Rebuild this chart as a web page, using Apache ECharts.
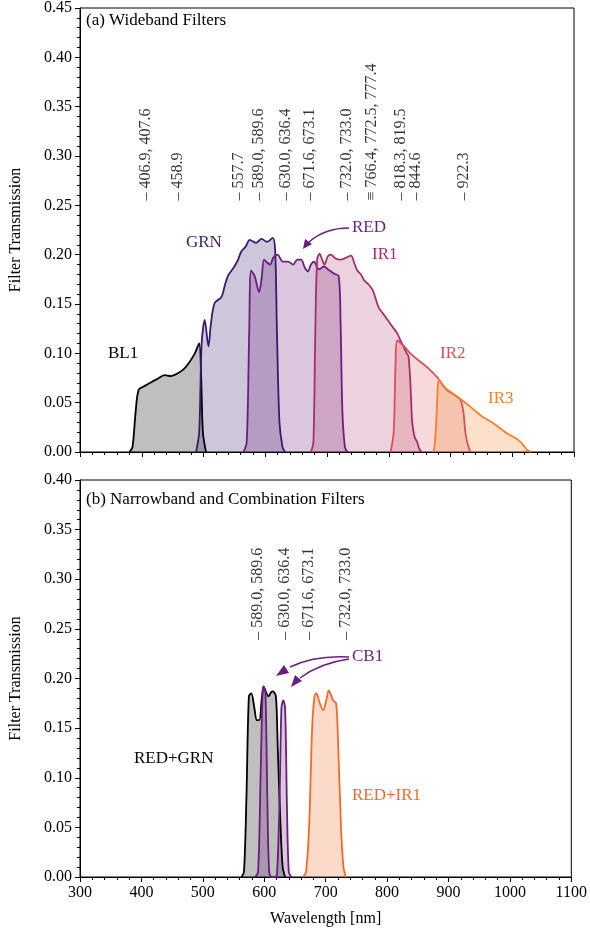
<!DOCTYPE html>
<html>
<head>
<meta charset="utf-8">
<script src="https://cdn.jsdelivr.net/npm/echarts@6/dist/echarts.min.js"></script>
<style>html,body{margin:0;padding:0;background:#fff}#main{width:590px;height:938px}</style>
</head>
<body>
<div id="main"></div>
<script>
// wideband filters [nm, transmission]
var bl1 = [[380,0],[385,0.005],[390,0.04],[395,0.063],[405,0.067],[416,0.071],[425,0.074],[437,0.078],[447,0.077],[459,0.080],[468,0.084],[476,0.090],[486,0.100],[493,0.110],[496,0.08],[499,0.02],[504,0]];
var grn = [[488,0],[493,0.02],[497,0.11],[502,0.134],[508,0.107],[512,0.13],[518,0.151],[529,0.157],[535,0.17],[540,0.179],[550,0.188],[556,0.195],[561,0.203],[568,0.208],[575,0.215],[585,0.212],[594,0.216],[603,0.213],[612,0.217],[616,0.205],[619,0.12],[623,0.03],[628,0.005],[632,0]];
var red = [[565,0],[570,0.01],[574,0.12],[577,0.184],[583,0.178],[590,0.162],[594,0.175],[598,0.195],[603,0.192],[608,0.19],[613,0.197],[620,0.2],[628,0.193],[637,0.193],[645,0.19],[652,0.195],[658,0.195],[664,0.187],[669,0.183],[674,0.19],[679,0.193],[687,0.185],[695,0.188],[702,0.185],[711,0.181],[719,0.178],[722,0.13],[725,0.04],[729,0.005],[733,0]];
var ir1 = [[674,0],[678,0.01],[681,0.12],[684,0.195],[688,0.201],[692,0.195],[696,0.19],[701,0.198],[706,0.2],[714,0.196],[722,0.195],[731,0.197],[739,0.199],[744,0.192],[749,0.184],[755,0.18],[760,0.174],[767,0.17],[774,0.164],[779,0.155],[784,0.146],[791,0.14],[798,0.134],[806,0.127],[814,0.12],[819,0.113],[824,0.107],[829,0.1],[832,0.097],[835,0.07],[838,0.03],[842,0.015],[846,0.01],[849,0.004],[853,0]];
var ir2 = [[803,0],[808,0.02],[811,0.09],[814,0.113],[825,0.107],[835,0.100],[848,0.093],[862,0.086],[878,0.076],[894,0.063],[906,0.058],[916,0.053],[921,0.04],[924,0.02],[927,0.01],[932,0]];
var ir3 = [[873,0],[876,0.02],[879,0.06],[881,0.073],[889,0.066],[900,0.061],[911,0.056],[922,0.051],[932,0.046],[951,0.036],[970,0.029],[991,0.019],[1000,0.016],[1010,0.012],[1018,0.007],[1024,0.002],[1030,0]];
// narrowband / combination filters
var redGrn = [[563,0],[567,0.005],[571,0.08],[575,0.182],[579,0.185],[584,0.17],[588,0.158],[592,0.158],[596,0.18],[599,0.192],[603,0.186],[607,0.182],[611,0.186],[614,0.187],[619,0.182],[622,0.13],[626,0.06],[630,0.01],[634,0]];
var cb1 = [[585,0],[590,0.005],[594,0.1],[597,0.18],[599,0.192],[602,0.185],[605,0.08],[608,0.005],[612,0],[618,0],[621,0.005],[625,0.08],[628,0.17],[631,0.178],[634,0.17],[637,0.07],[640,0.005],[644,0]];
var redIr1 = [[663,0],[668,0.005],[673,0.05],[678,0.15],[682,0.183],[685,0.185],[690,0.176],[696,0.168],[701,0.178],[705,0.188],[709,0.183],[712,0.178],[717,0.175],[720,0.14],[725,0.05],[729,0.01],[733,0]];
// emission line labels
var linesTopX = [407, 458.9, 557.7, 589.3, 633.2, 672.3, 732.5, 772.1, 818.9, 844.6, 922.3];
var linesTopTxt = ['406.9, 407.6','458.9','557.7','589.0, 589.6','630.0, 636.4','671.6, 673.1','732.0, 733.0','766.4, 772.5, 777.4','818.3, 819.5','844.6','922.3'];
var linesBotX = [589.3, 633.2, 672.3, 732.5];
var linesBotTxt = ['589.0, 589.6','630.0, 636.4','671.6, 673.1','732.0, 733.0'];

var FONT = 'Liberation Serif';
var FS = 16;
var chart = echarts.init(document.getElementById('main'));

function xAxis(idx, showLabel) {
  return {
    type: 'value', gridIndex: idx, min: 300, max: 1100, interval: 100,
    axisLine: { show: true, onZero: false, lineStyle: { color: '#000' } },
    axisTick: { show: true, length: 5, lineStyle: { color: '#000' } },
    minorTick: { show: true, splitNumber: 5, length: 3, lineStyle: { color: '#000' } },
    splitLine: { show: false },
    axisLabel: { show: showLabel, color: '#000', fontFamily: FONT, fontSize: FS, margin: 8, formatter: function (v) { return String(v); } },
    name: showLabel ? 'Wavelength [nm]' : '', nameLocation: 'middle', nameGap: 34,
    nameTextStyle: { color: '#000', fontFamily: FONT, fontSize: FS }
  };
}
function yAxis(idx, max) {
  return {
    type: 'value', gridIndex: idx, min: 0, max: max, interval: 0.05,
    axisLine: { show: true, lineStyle: { color: '#000' } },
    axisTick: { show: true, length: 5, lineStyle: { color: '#000' } },
    minorTick: { show: true, splitNumber: 5, length: 3, lineStyle: { color: '#000' } },
    splitLine: { show: false },
    axisLabel: { color: '#000', fontFamily: FONT, fontSize: FS, formatter: function (v) { return v.toFixed(2); } },
    name: 'Filter Transmission', nameLocation: 'middle', nameGap: 56,
    nameTextStyle: { color: '#000', fontFamily: FONT, fontSize: FS }
  };
}
function band(name, data, color, fillOpacity, idx) {
  return {
    name: name, type: 'line', data: data, xAxisIndex: idx, yAxisIndex: idx,
    symbol: 'none', smooth: 0.3,
    lineStyle: { color: color, width: 1.8 },
    areaStyle: { color: color, opacity: fillOpacity }
  };
}
function lineLabels(xs, txt, y, idx) {
  return {
    type: 'scatter', xAxisIndex: idx, yAxisIndex: idx, symbolSize: 0, silent: true,
    data: xs.map(function (x, i) { return { value: [x, y], name: (i === 7 && idx === 0 ? '\u2261 ' : '\u2013 ') + txt[i] }; }),
    label: { show: true, position: 'inside', rotate: 90, align: 'left', verticalAlign: 'middle',
      formatter: '{b}', color: '#000', fontFamily: FONT, fontSize: FS }
  };
}
function txt(x, y, s, color) {
  return { type: 'text', left: x, top: y, style: { text: s, fill: color, font: '17px "' + FONT + '"' } };
}
function arrow(x1, y1, cx, cy, x2, y2, color, hx) {
  return [
    { type: 'bezierCurve', shape: { x1: x1, y1: y1, cpx1: cx, cpy1: cy, x2: x2, y2: y2 }, style: { stroke: color, lineWidth: 1.5, fill: null } },
    { type: 'polygon', shape: { points: hx }, style: { fill: color } }
  ];
}

var option = {
  animation: false,
  grid: [
    { left: 78, right: 16, top: 8, height: 444, show: true, borderColor: '#000', borderWidth: 1 },
    { left: 78, right: 16, top: 480, height: 397, show: true, borderColor: '#000', borderWidth: 1 }
  ],
  xAxis: [xAxis(0, false), xAxis(1, true)],
  yAxis: [yAxis(0, 0.45), yAxis(1, 0.40)],
  series: [
    band('BL1', bl1, '#000000', 0.25, 0),
    band('GRN', grn, '#3b1a6e', 0.25, 0),
    band('RED', red, '#6b1f7c', 0.25, 0),
    band('IR1', ir1, '#a3306b', 0.22, 0),
    band('IR2', ir2, '#d9505a', 0.22, 0),
    band('IR3', ir3, '#f5822a', 0.25, 0),
    lineLabels(linesTopX, linesTopTxt, 0.255, 0),
    band('RED+GRN', redGrn, '#000000', 0.25, 1),
    band('CB1', cb1, '#6b1f7c', 0.25, 1),
    band('RED+IR1', redIr1, '#f26b2a', 0.25, 1),
    lineLabels(linesBotX, linesBotTxt, 0.239, 1)
  ],
  graphic: [
    txt(86, 12, '(a) Wideband Filters', '#000'),
    txt(108, 345, 'BL1', '#000'),
    txt(186, 234, 'GRN', '#3b1a6e'),
    txt(352, 219, 'RED', '#6b1f7c'),
    txt(372, 246, 'IR1', '#a3306b'),
    txt(440, 345, 'IR2', '#d9505a'),
    txt(488, 390, 'IR3', '#f5822a'),
    txt(86, 491, '(b) Narrowband and Combination Filters', '#000'),
    txt(352, 648, 'CB1', '#6b1f7c'),
    txt(134, 750, 'RED+GRN', '#000'),
    txt(352, 787, 'RED+IR1', '#f26b2a')
  ].concat(
    arrow(349, 228, 325, 228, 309, 242, '#6b1f7c', [[303, 249], [305, 239], [312, 244]]),
    arrow(349, 657, 315, 655, 290, 667, '#6b1f7c', [[276, 676], [284, 665], [289, 673]]),
    arrow(349, 659, 320, 663, 300, 678, '#6b1f7c', [[291, 687], [295, 675], [302, 681]])
  )
};
chart.setOption(option);
</script>
</body>
</html>
